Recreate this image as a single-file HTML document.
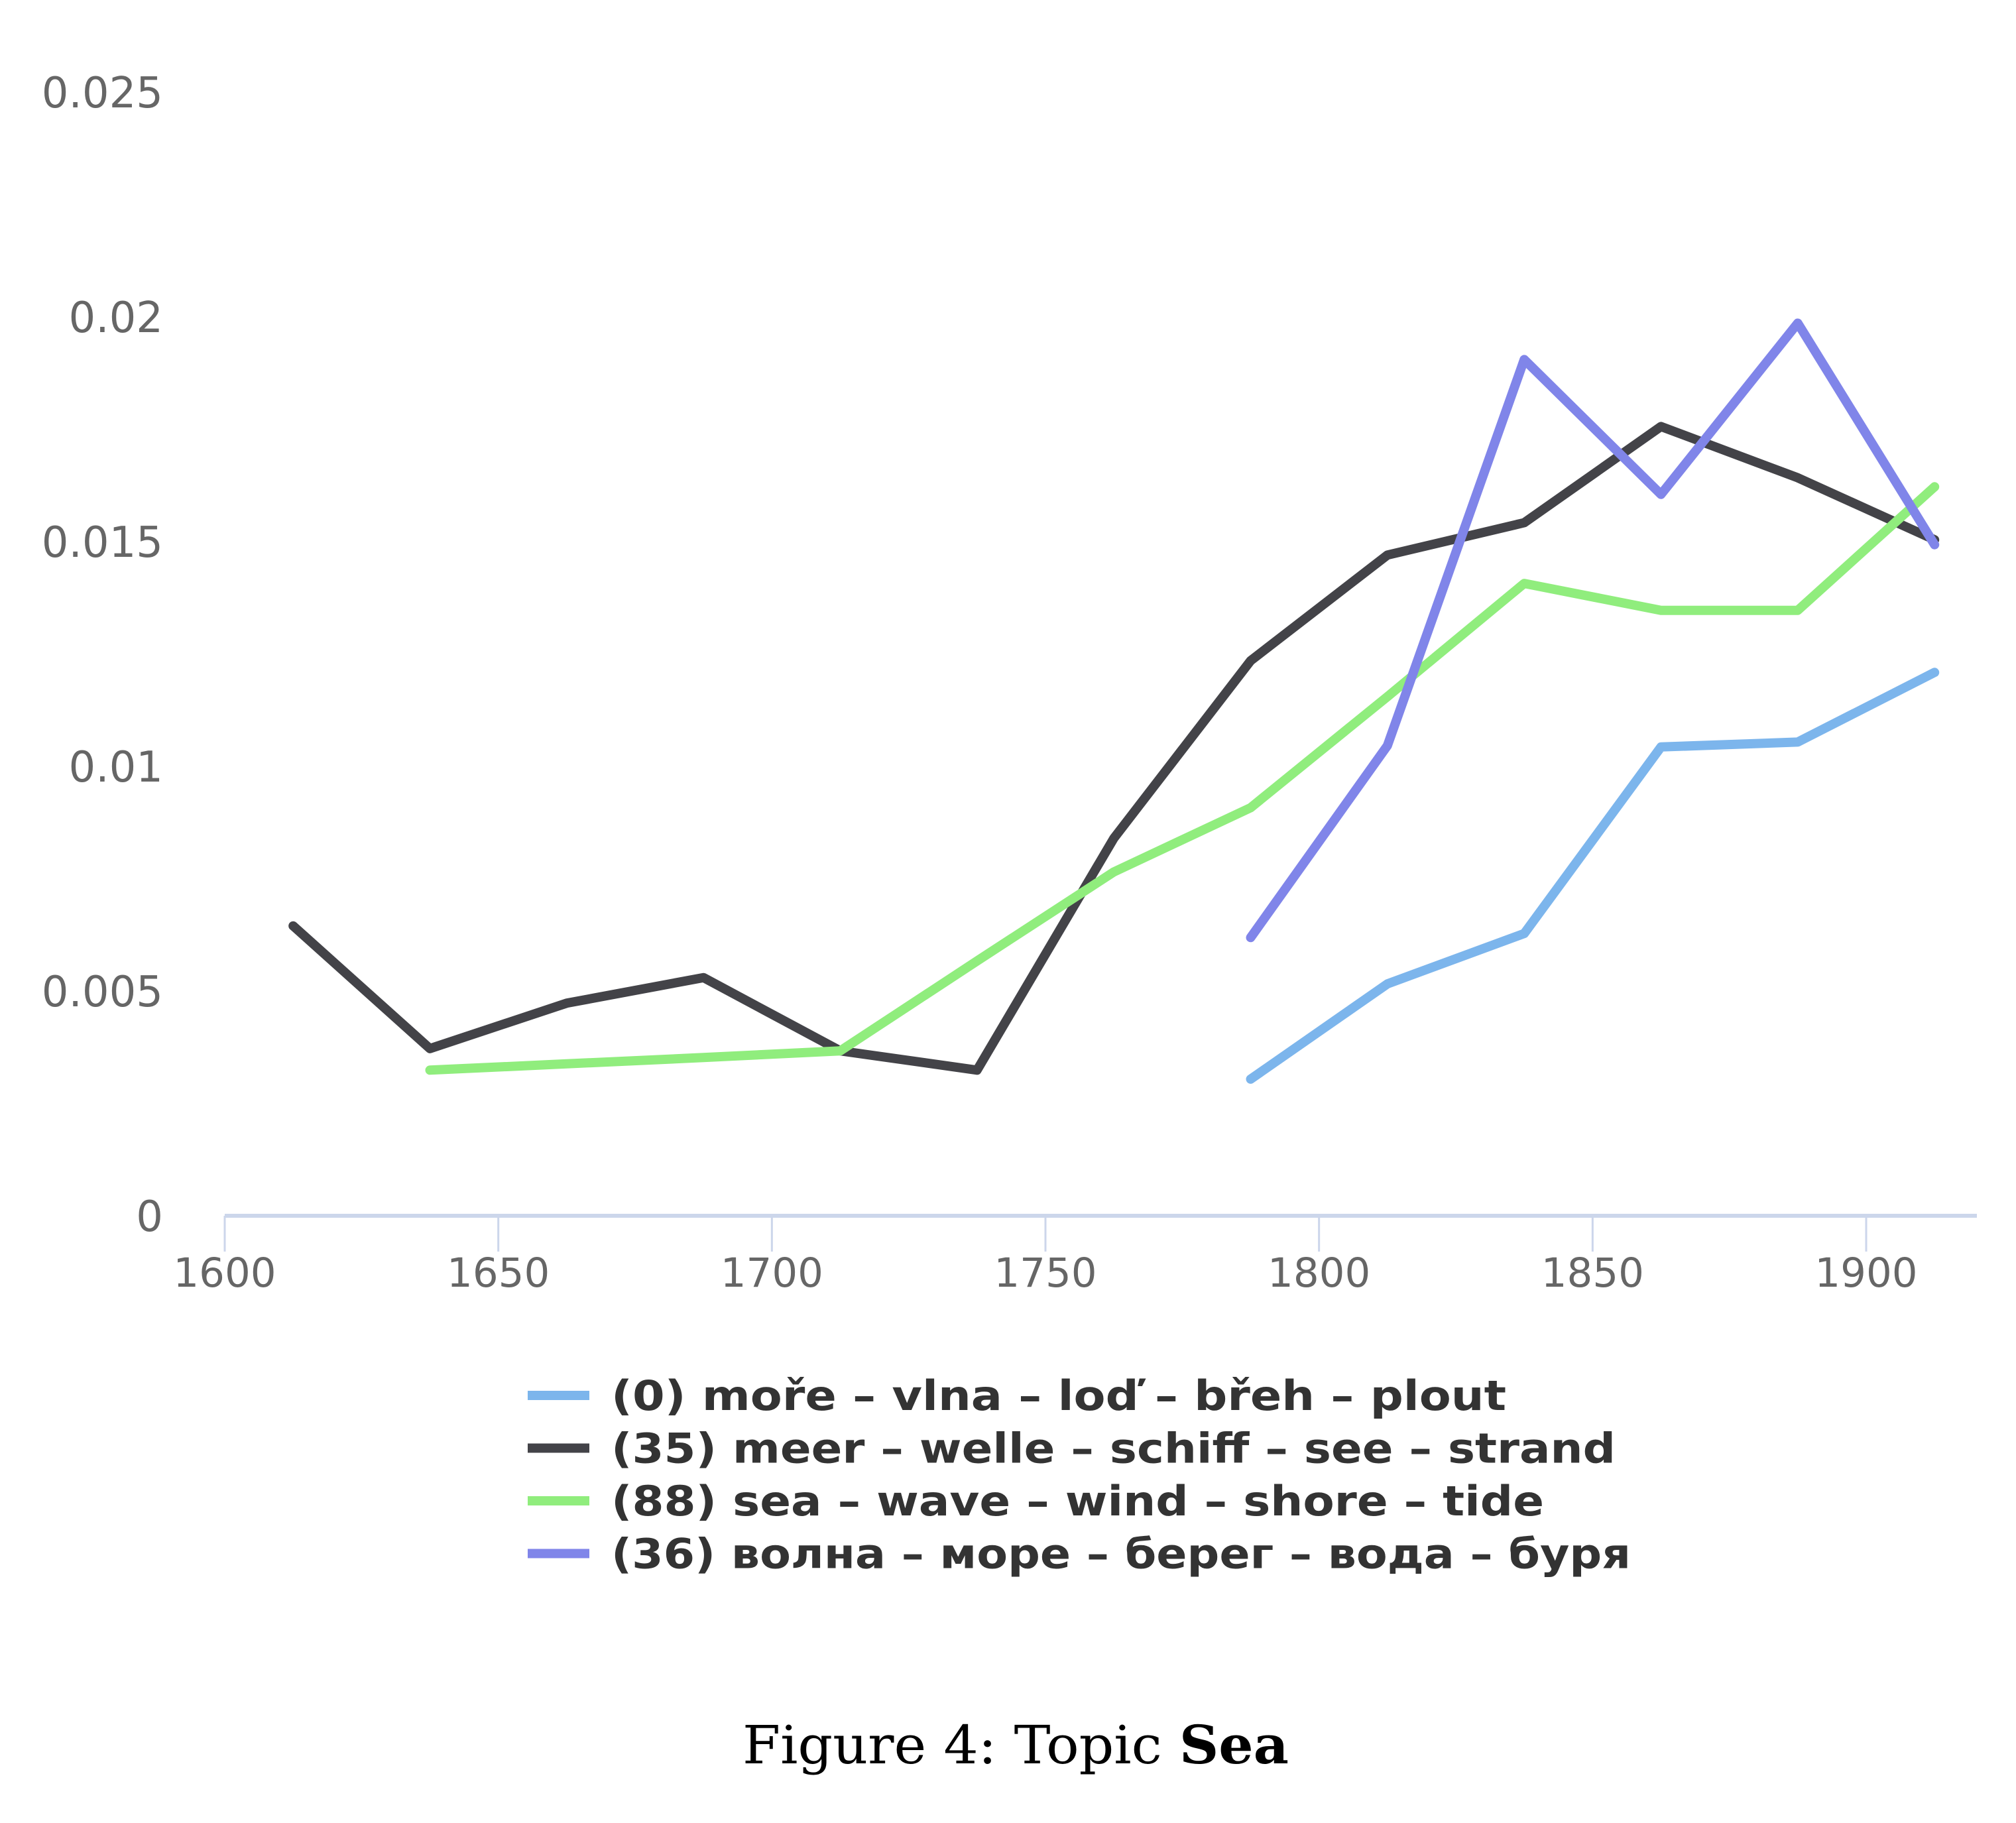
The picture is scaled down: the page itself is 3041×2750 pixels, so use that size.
<!DOCTYPE html>
<html><head><meta charset="utf-8"><style>
html,body{margin:0;padding:0;background:#fff;}
svg{display:block;}
</style></head><body>
<svg id="chart" width="3041" height="2750" viewBox="0 0 3041 2750" xmlns="http://www.w3.org/2000/svg">
<rect width="3041" height="2750" fill="#fff"/>
<g id="axes"></g>
<g id="series"></g>
<g id="legend"></g>
<text x="1120" y="2660" font-family="'DejaVu Serif','Liberation Serif',serif" font-size="80" fill="#000" textLength="824" lengthAdjust="spacingAndGlyphs">Figure 4: Topic <tspan font-weight="bold">Sea</tspan></text>
</svg>
<script>
const years = [1612.5,1637.5,1662.5,1687.5,1712.5,1737.5,1762.5,1787.5,1812.5,1837.5,1862.5,1887.5,1912.5];
const czechValues = [null,null,null,null,null,null,null,0.00304,0.00516,0.00628,0.01043,0.01054,0.01209];
const germanValues = [0.00645,0.00372,0.00473,0.0053,0.00367,0.00324,0.0084,0.01235,0.0147,0.01542,0.01756,0.01642,0.01504];
const englishValues = [null,0.00324,0.00338,0.00352,0.00367,0.00567,0.00765,0.00908,0.01155,0.01407,0.01347,0.01347,0.01622];
const russianValues = [null,null,null,null,null,null,null,0.00619,0.01046,0.01905,0.01605,0.01986,0.01493];
const seriesNames = ["(0) moře – vlna – loď – břeh – plout","(35) meer – welle – schiff – see – strand","(88) sea – wave – wind – shore – tide","(36) волна – море – берег – вода – буря"];
const seriesColors = ["#7cb5ec","#434348","#90ed7d","#8085e9"];
const xTicks = [1600,1650,1700,1750,1800,1850,1900];
const yTicks = [0,0.005,0.01,0.015,0.02,0.025];
const yTickLabels = ["0","0.005","0.01","0.015","0.02","0.025"];

const NS="http://www.w3.org/2000/svg";
function xs(v){return 339+(v-1600)*(2815-339)/300;}
function ys(v){return 1834-v*(339/0.005);}
function mk(tag,attrs,parent){const e=document.createElementNS(NS,tag);for(const k in attrs)e.setAttribute(k,attrs[k]);parent.appendChild(e);return e;}

const axes=document.getElementById('axes');
const axisLine=mk('line',{x1:339,x2:2982,y1:1834,y2:1834,stroke:'#ccd6eb','stroke-width':6},axes);


xTicks.forEach(t=>{
  const tk=mk('line',{x1:xs(t),x2:xs(t),y1:1834,y2:1888,stroke:'#ccd6eb','stroke-width':3},axes);
  
  
  const lb=mk('text',{x:xs(t),y:1941,'text-anchor':'middle','font-family':"'DejaVu Sans','Liberation Sans',sans-serif",'font-size':61,fill:'#666'},axes);
  lb.textContent=t;
  
  
});
yTicks.forEach((t,i)=>{
  const lb=mk('text',{x:246,y:ys(t)+23,'text-anchor':'end','font-family':"'DejaVu Sans','Liberation Sans',sans-serif",'font-size':64,fill:'#666'},axes);
  lb.textContent=yTickLabels[i];
  
  
});

const allSeries=[czechValues,germanValues,englishValues,russianValues];
const sg=document.getElementById('series');
const seriesIds=['series-czech','series-german','series-english','series-russian'];
allSeries.forEach((vals,si)=>{
  let d='';let started=false;
  vals.forEach((v,i)=>{ if(v===null)return; d+=(started?'L':'M')+xs(years[i]).toFixed(1)+' '+ys(v).toFixed(1)+' '; started=true;});
  const p=mk('path',{d:d,fill:'none',stroke:seriesColors[si],'stroke-width':14,'stroke-linejoin':'round','stroke-linecap':'round'},sg);
  
  
});

const lg=document.getElementById('legend');
const lens=[1350,1515,1407,1538];
seriesNames.forEach((n,i)=>{
  const cy=2105+i*79.5;
  const r=mk('rect',{x:796,y:cy-7,width:93,height:14,fill:seriesColors[i]},lg);
  
  
  const t=mk('text',{x:922,y:cy+22,'font-family':"'DejaVu Sans','Liberation Sans',sans-serif",'font-weight':'bold','font-size':62,fill:'#333',textLength:lens[i],lengthAdjust:'spacingAndGlyphs'},lg);
  t.textContent=n;
  
  
});
</script>
</body></html>
